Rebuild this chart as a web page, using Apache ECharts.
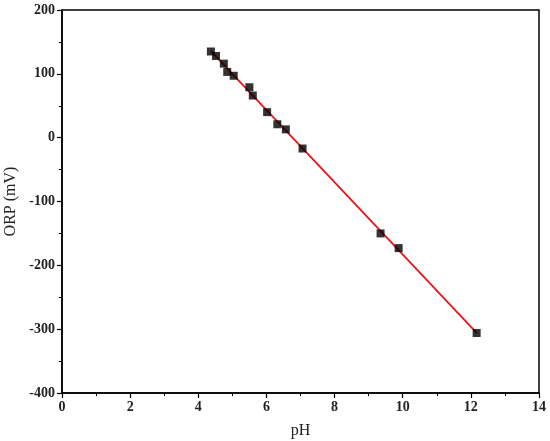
<!DOCTYPE html>
<html>
<head>
<meta charset="utf-8">
<script src="https://cdn.jsdelivr.net/npm/echarts@6/dist/echarts.min.js"></script>
<style>
  html, body { margin: 0; padding: 0; background: #fff; }
  #chart { width: 550px; height: 441px; }
</style>
</head>
<body>
<div id="chart"></div>
<script>
var phValues = [4.37, 4.52, 4.75, 4.85, 5.04, 5.50, 5.60, 6.02, 6.32, 6.57, 7.06, 9.35, 9.88, 12.17];
var orpValues = [135, 128, 116, 103, 97, 79, 66, 40, 21, 13, -17, -150, -173, -306];

// least squares fit line, drawn between lowest and highest pH
var n = phValues.length, sx = 0, sy = 0, sxx = 0, sxy = 0;
for (var i = 0; i < n; i++) {
  sx += phValues[i]; sy += orpValues[i];
  sxx += phValues[i] * phValues[i]; sxy += phValues[i] * orpValues[i];
}
var slope = (n * sxy - sx * sy) / (n * sxx - sx * sx);
var intercept = (sy - slope * sx) / n;
var fitX = [Math.min.apply(null, phValues), Math.max.apply(null, phValues)];
var fitLine = fitX.map(function (x) { return [x, intercept + slope * x]; });

var font = 'Liberation Serif';
var chart = echarts.init(document.getElementById('chart'));
chart.setOption({
  backgroundColor: '#fff',
  animation: false,
  grid: {
    left: 62, right: 11, top: 10, bottom: 48,
    outerBoundsMode: 'none',
    show: true, borderColor: '#000', borderWidth: 1.5
  },
  xAxis: {
    type: 'value', min: 0, max: 14, interval: 2,
    name: 'pH', nameLocation: 'middle', nameGap: 30,
    nameTextStyle: { fontFamily: font, fontSize: 16, color: '#222' },
    axisLine: { show: true, onZero: false, lineStyle: { color: '#000', width: 1.5 } },
    axisTick: { show: true, length: 5, lineStyle: { color: '#000', width: 1.2 } },
    minorTick: { show: true, splitNumber: 2, length: 3, lineStyle: { color: '#000', width: 1 } },
    axisLabel: { fontFamily: font, fontSize: 14, fontWeight: 'bold', color: '#222', margin: 7 },
    splitLine: { show: false }
  },
  yAxis: {
    type: 'value', min: -400, max: 200, interval: 100,
    name: 'ORP (mV)', nameLocation: 'middle', nameGap: 42,
    nameTextStyle: { fontFamily: font, fontSize: 16, color: '#222' },
    axisLine: { show: true, onZero: false, lineStyle: { color: '#000', width: 1.5 } },
    axisTick: { show: true, length: 5, lineStyle: { color: '#000', width: 1.2 } },
    minorTick: { show: true, splitNumber: 2, length: 3, lineStyle: { color: '#000', width: 1 } },
    axisLabel: { fontFamily: font, fontSize: 14, fontWeight: 'bold', color: '#222', margin: 7 },
    splitLine: { show: false }
  },
  series: [
    {
      type: 'line',
      data: fitLine,
      showSymbol: false,
      lineStyle: { color: '#e8151b', width: 1.8 },
      z: 2
    },
    {
      type: 'scatter',
      data: phValues.map(function (x, i) { return [x, orpValues[i]]; }),
      symbol: 'rect',
      symbolSize: 8,
      itemStyle: { color: '#000' },
      z: 3
    }
  ]
});
</script>
</body>
</html>
